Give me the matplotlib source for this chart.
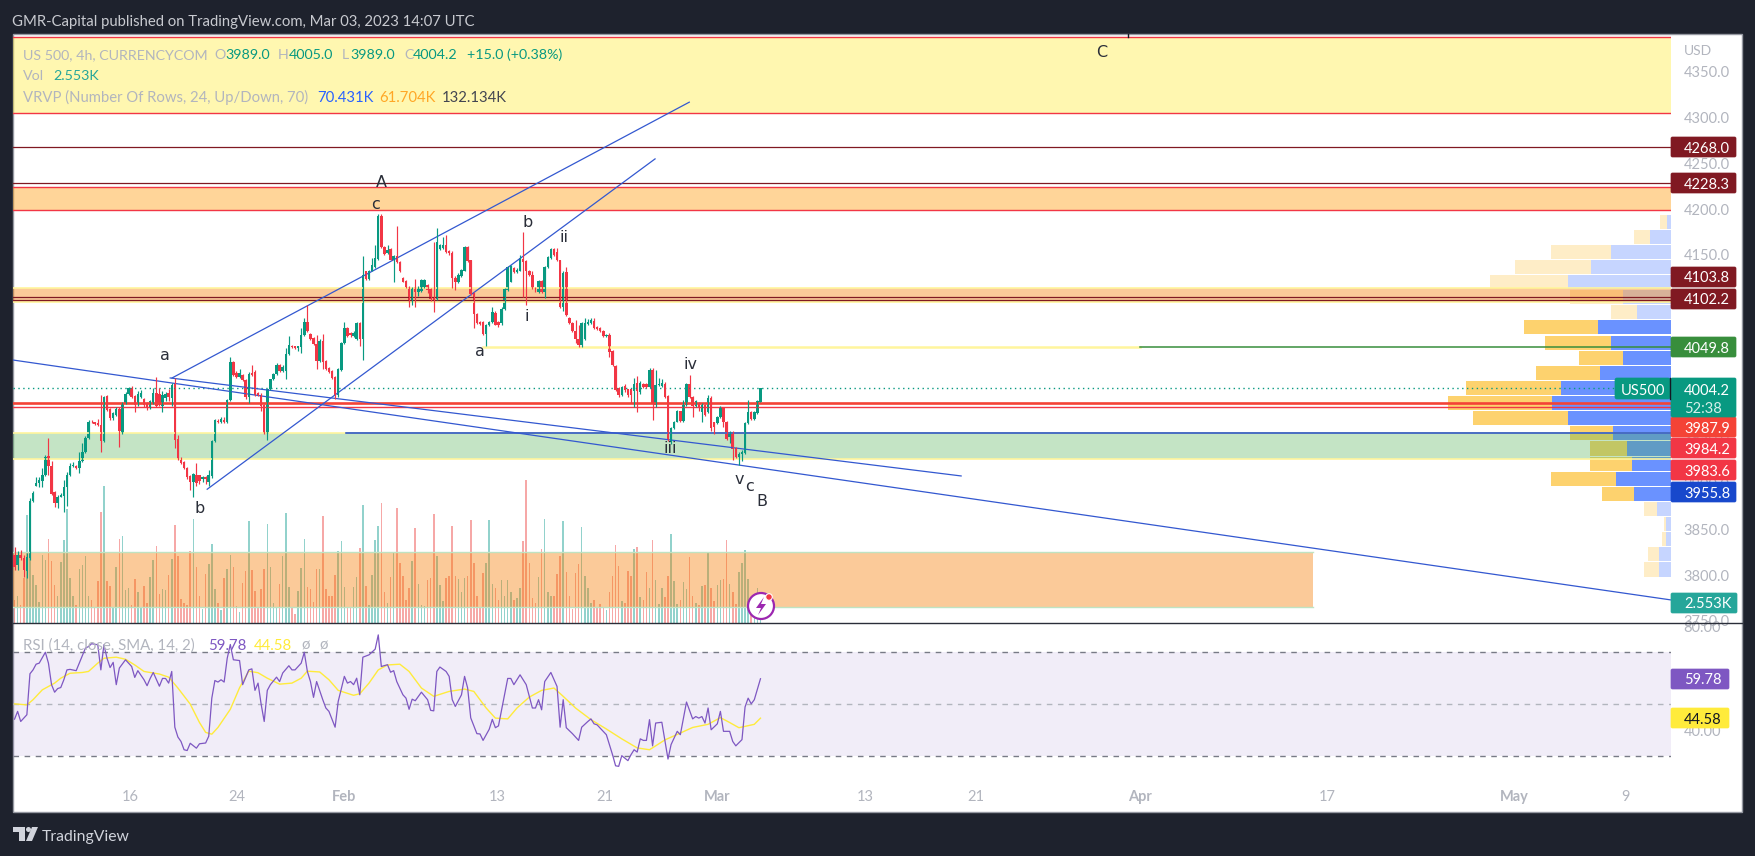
"""
plot.py
US 500 4h chart with volume, visible range profile and RSI, TradingView look.
"""

import matplotlib
matplotlib.use("Agg")
import matplotlib.pyplot as plt
import numpy as np
from matplotlib.patches import Circle, FancyBboxPatch, Polygon, Rectangle

W, H = 1756, 856
BG = "#1e222d"
GREEN = "#089981"
RED = "#f23645"
GREY = "#b2b5be"
DARK_RED = "#801922"
LINE_BLUE = "#3358d0"
INK = "#2a2e39"

plt.rcParams["font.family"] = "Lato"

# candles, 4h bars
opens = [
    3822, 3811, 3822, 3819, 3805, 3819, 3881, 3898, 3901, 3903,
    3909, 3930, 3919, 3891, 3879, 3886, 3887, 3896, 3909, 3919,
    3919, 3917, 3925, 3935, 3950, 3968, 3967, 3966, 3964, 3947,
    3996, 3982, 3972, 3975, 3982, 3955, 3988, 3998, 4005, 3996,
    3987, 3995, 3993, 3988, 3983, 3988, 3999, 3998, 3985, 3994,
    3999, 3994, 4010, 3949, 3926, 3924, 3917, 3908, 3902, 3910,
    3909, 3905, 3907, 3902, 3908, 3947, 3969, 3967, 3970, 3967,
    3991, 4033, 4021, 4017, 4019, 4013, 3995, 4021, 4022, 3999,
    3997, 3986, 3954, 4003, 4014, 4020, 4030, 4023, 4023, 4042,
    4051, 4050, 4048, 4049, 4062, 4077, 4064, 4059, 4053, 4034,
    4056, 4034, 4027, 4023, 4017, 3997, 4024, 4054, 4070, 4065,
    4061, 4058, 4076, 4058, 4132, 4124, 4133, 4137, 4146, 4193,
    4159, 4152, 4156, 4145, 4149, 4142, 4125, 4122, 4115, 4099,
    4115, 4110, 4111, 4115, 4117, 4113, 4103, 4102, 4156, 4158,
    4161, 4154, 4152, 4125, 4120, 4127, 4133, 4159, 4144, 4108,
    4086, 4077, 4077, 4064, 4073, 4077, 4087, 4077, 4076, 4091,
    4112, 4121, 4136, 4131, 4133, 4146, 4143, 4133, 4128, 4114,
    4109, 4122, 4110, 4137, 4147, 4157, 4153, 4144, 4093, 4131,
    4081, 4076, 4067, 4058, 4052, 4058, 4075, 4076, 4078, 4071,
    4070, 4067, 4061, 4063, 4045, 4029, 4005, 3997, 4007, 4003,
    4003, 4001, 4010, 4000, 4009, 4009, 4006, 4024, 3986, 4008,
    4007, 4009, 3996, 3946, 3961, 3968, 3979, 3969, 3986, 4009,
    3995, 3985, 3988, 3978, 3986, 3978, 3994, 3967, 3966, 3973,
    3983, 3968, 3951, 3957, 3939, 3929, 3932, 3934, 3966, 3978,
    3971, 3977, 3989,
]
highs = [
    3831, 3826, 3828, 3822, 3824, 3884, 3892, 3907, 3907, 3917,
    3931, 3950, 3925, 3892, 3888, 3890, 3904, 3913, 3923, 3924,
    3921, 3935, 3945, 3952, 3970, 3970, 3968, 3971, 3997, 3996,
    3997, 3983, 3978, 3984, 3984, 3989, 4000, 4006, 4007, 3997,
    4001, 4002, 3994, 3989, 3992, 4005, 4017, 4005, 4001, 4000,
    4003, 4010, 4016, 3953, 3929, 3925, 3918, 3909, 3912, 3923,
    3910, 3908, 3908, 3915, 3948, 3971, 3971, 3973, 3973, 3993,
    4039, 4034, 4023, 4025, 4020, 4014, 4022, 4030, 4024, 4000,
    3999, 3987, 4004, 4015, 4021, 4032, 4031, 4030, 4048, 4061,
    4052, 4051, 4051, 4070, 4081, 4095, 4065, 4060, 4063, 4058,
    4064, 4035, 4028, 4024, 4018, 4026, 4055, 4077, 4071, 4066,
    4067, 4077, 4077, 4149, 4133, 4134, 4147, 4161, 4195, 4195,
    4160, 4161, 4158, 4150, 4182, 4143, 4126, 4123, 4116, 4115,
    4124, 4116, 4124, 4124, 4118, 4114, 4164, 4179, 4162, 4170,
    4172, 4155, 4154, 4127, 4130, 4135, 4160, 4160, 4145, 4109,
    4087, 4078, 4078, 4075, 4078, 4093, 4089, 4078, 4093, 4114,
    4138, 4139, 4137, 4136, 4150, 4175, 4144, 4134, 4132, 4115,
    4123, 4123, 4138, 4149, 4158, 4158, 4158, 4145, 4132, 4137,
    4082, 4077, 4079, 4074, 4077, 4081, 4080, 4081, 4081, 4072,
    4071, 4068, 4064, 4065, 4046, 4030, 4006, 4007, 4009, 4004,
    4004, 4016, 4018, 4012, 4010, 4010, 4027, 4027, 4024, 4016,
    4014, 4011, 3997, 3962, 3969, 3981, 3980, 3992, 4010, 4019,
    3996, 3992, 3989, 3988, 3987, 3997, 3996, 3968, 3974, 3985,
    3984, 3969, 3958, 3958, 3940, 3935, 3937, 3967, 3992, 3979,
    3979, 3991, 4005,
]
lows = [
    3806, 3806, 3817, 3798, 3797, 3817, 3880, 3897, 3896, 3896,
    3908, 3910, 3888, 3875, 3874, 3885, 3869, 3876, 3908, 3918,
    3916, 3912, 3924, 3934, 3949, 3966, 3964, 3963, 3935, 3946,
    3980, 3970, 3970, 3974, 3940, 3954, 3987, 3997, 3994, 3978,
    3985, 3994, 3984, 3981, 3982, 3987, 3984, 3985, 3978, 3990,
    3990, 3985, 3939, 3926, 3922, 3916, 3905, 3893, 3886, 3897,
    3900, 3902, 3900, 3898, 3906, 3946, 3966, 3966, 3966, 3966,
    3990, 4018, 4016, 4016, 4012, 3993, 3988, 4018, 3996, 3996,
    3979, 3954, 3948, 4002, 4013, 4019, 4022, 4022, 4014, 4041,
    4048, 4047, 4045, 4043, 4061, 4066, 4057, 4052, 4025, 4033,
    4025, 4024, 4021, 4015, 3993, 3995, 4023, 4053, 4060, 4060,
    4060, 4057, 4050, 4035, 4123, 4123, 4132, 4136, 4145, 4158,
    4150, 4151, 4144, 4120, 4141, 4131, 4120, 4114, 4093, 4095,
    4093, 4105, 4110, 4114, 4108, 4100, 4088, 4101, 4155, 4157,
    4152, 4150, 4114, 4112, 4119, 4126, 4132, 4142, 4106, 4070,
    4075, 4074, 4063, 4050, 4072, 4076, 4073, 4071, 4073, 4090,
    4111, 4120, 4130, 4130, 4132, 4104, 4095, 4127, 4113, 4110,
    4108, 4108, 4103, 4136, 4146, 4149, 4143, 4092, 4089, 4083,
    4075, 4066, 4054, 4049, 4049, 4057, 4074, 4075, 4069, 4068,
    4066, 4060, 4060, 4039, 4029, 4001, 3995, 3996, 4000, 3995,
    3988, 3984, 3978, 3998, 4005, 4005, 4005, 3970, 3984, 4007,
    4006, 3994, 3947, 3943, 3960, 3967, 3968, 3968, 3985, 3994,
    3973, 3984, 3980, 3967, 3974, 3977, 3958, 3954, 3965, 3972,
    3962, 3948, 3944, 3926, 3928, 3921, 3925, 3933, 3965, 3970,
    3970, 3976, 3989,
]
closes = [
    3809, 3822, 3819, 3806, 3820, 3881, 3890, 3901, 3904, 3909,
    3929, 3919, 3889, 3879, 3886, 3888, 3896, 3909, 3919, 3920,
    3917, 3925, 3935, 3950, 3968, 3967, 3965, 3964, 3947, 3995,
    3981, 3972, 3977, 3982, 3958, 3988, 3998, 4005, 3995, 3986,
    3998, 3999, 3986, 3983, 3990, 3999, 3985, 3986, 3997, 3998,
    3995, 4008, 3948, 3927, 3923, 3917, 3907, 3902, 3911, 3901,
    3903, 3907, 3905, 3909, 3947, 3970, 3967, 3971, 3967, 3992,
    4033, 4019, 4017, 4021, 4013, 3995, 4020, 4019, 3997, 3997,
    3985, 3955, 4003, 4014, 4020, 4030, 4023, 4028, 4042, 4052,
    4049, 4048, 4050, 4062, 4077, 4067, 4058, 4053, 4034, 4056,
    4033, 4025, 4022, 4016, 3997, 4025, 4054, 4070, 4061, 4062,
    4065, 4076, 4058, 4128, 4124, 4133, 4139, 4147, 4193, 4159,
    4151, 4155, 4145, 4149, 4142, 4132, 4121, 4115, 4099, 4114,
    4110, 4114, 4123, 4123, 4112, 4102, 4101, 4164, 4161, 4161,
    4153, 4152, 4125, 4120, 4128, 4134, 4159, 4143, 4107, 4085,
    4076, 4075, 4064, 4073, 4077, 4088, 4074, 4074, 4091, 4113,
    4137, 4138, 4131, 4134, 4147, 4142, 4133, 4128, 4114, 4113,
    4122, 4109, 4137, 4148, 4157, 4150, 4144, 4093, 4130, 4084,
    4076, 4067, 4058, 4052, 4076, 4076, 4077, 4079, 4070, 4069,
    4067, 4061, 4063, 4044, 4030, 4002, 3997, 4006, 4002, 3997,
    3997, 4009, 4001, 4010, 4006, 4006, 4024, 3987, 4008, 4009,
    4010, 3995, 3948, 3961, 3968, 3979, 3969, 3986, 4009, 3995,
    3985, 3990, 3984, 3986, 3975, 3994, 3961, 3962, 3973, 3983,
    3968, 3949, 3957, 3938, 3929, 3932, 3935, 3966, 3978, 3971,
    3978, 3990, 4004.2,
]
# volume in thousands
volumes = [
    3.0, 3.4, 2.3, 5.7, 13.8, 8.9, 6.1, 4.9, 2.7, 8.7,
    8.0, 10.7, 7.9, 4.9, 3.4, 7.8, 10.6, 14.6, 5.7, 3.4,
    2.3, 6.9, 7.4, 8.6, 3.4, 2.9, 1.9, 5.4, 14.2, 17.5,
    5.4, 4.7, 2.1, 7.1, 10.7, 11.1, 4.2, 4.5, 2.3, 5.6,
    4.0, 2.1, 4.7, 2.5, 5.9, 8.0, 9.8, 3.7, 4.3, 4.2,
    6.1, 8.2, 12.5, 8.5, 3.1, 2.5, 2.3, 9.2, 13.3, 7.2,
    3.4, 1.8, 6.3, 7.5, 10.1, 4.3, 2.5, 1.7, 5.7, 6.9,
    8.7, 7.1, 2.2, 1.4, 5.1, 6.6, 13.0, 6.8, 4.1, 2.1,
    4.4, 6.9, 12.6, 7.1, 2.5, 1.9, 5.0, 8.6, 14.0, 4.6,
    2.0, 1.2, 4.1, 7.0, 10.7, 4.6, 4.4, 2.7, 6.9, 6.9,
    13.7, 4.4, 3.4, 3.4, 6.1, 9.2, 10.5, 4.6, 2.1, 1.9,
    4.6, 5.9, 9.6, 15.1, 4.7, 2.3, 6.1, 10.6, 12.4, 15.3,
    4.0, 2.5, 5.9, 9.0, 14.7, 7.6, 6.0, 3.0, 4.5, 7.9,
    12.1, 5.0, 2.3, 2.2, 5.5, 5.7, 13.9, 8.5, 4.8, 2.8,
    5.8, 6.0, 12.4, 6.0, 5.6, 4.0, 5.8, 6.0, 13.2, 7.6,
    3.5, 2.0, 6.4, 7.6, 13.2, 5.0, 4.5, 3.0, 5.5, 3.5,
    5.5, 4.0, 3.0, 3.2, 4.5, 10.5, 18.3, 7.6, 3.2, 2.5,
    5.9, 9.4, 13.3, 4.0, 3.5, 3.5, 6.2, 8.6, 13.0, 6.5,
    3.5, 1.8, 6.4, 7.5, 12.3, 6.0, 4.5, 2.5, 3.0, 2.0,
    2.4, 1.9, 1.7, 4.0, 6.0, 9.9, 7.3, 2.8, 2.6, 6.6,
    6.0, 9.5, 9.7, 3.3, 3.0, 6.5, 4.5, 10.6, 5.5, 2.4,
    4.5, 3.3, 6.0, 11.4, 5.4, 2.4, 3.0, 5.2, 4.4, 8.4,
    3.5, 2.6, 2.3, 4.7, 4.9, 8.9, 4.5, 2.8, 4.8, 5.5,
    5.6, 10.6, 5.0, 4.0, 2.4, 6.5, 7.6, 9.3, 5.6, 2.5,
    2.3, 4.5, 2.553,
]

# RSI vertices
rsi_bars = [
    0, 1, 2, 4, 5, 6, 7, 8, 10, 11, 12, 13, 14, 15, 16, 17, 18, 20, 21, 23,
    24, 25, 27, 28, 29, 30, 31, 32, 33, 34, 36, 38, 39, 40, 42, 43, 44, 45, 47, 48,
    49, 50, 51, 52, 53, 54, 55, 56, 57, 59, 60, 62, 63, 64, 65, 66, 67, 68, 69, 70,
    71, 73, 74, 76, 77, 78, 79, 80, 81, 82, 83, 85, 86, 87, 89, 90, 91, 93, 94, 95,
    96, 97, 98, 100, 101, 102, 104, 105, 107, 108, 109, 110, 111, 112, 113, 115, 117, 118, 119, 121,
    122, 123, 124, 126, 127, 128, 129, 130, 132, 134, 135, 136, 137, 138, 140, 141, 142, 143, 145, 146,
    147, 148, 150, 151, 152, 154, 155, 156, 157, 160, 161, 162, 164, 166, 168, 169, 170, 171, 172, 174,
    176, 177, 178, 179, 181, 183, 184, 186, 187, 188, 189, 191, 192, 194, 195, 196, 197, 199, 200, 201,
    202, 203, 204, 205, 206, 207, 208, 210, 211, 212, 213, 215, 216, 218, 220, 221, 222, 223, 224, 225,
    226, 228, 229, 230, 232, 233, 234, 236, 237, 238, 239, 240, 242,
]
rsi_values = [
    44.2, 47.2, 43.3, 45.9, 61.7, 63.2, 65.4, 65.8, 70.0, 65.8, 57.5, 54.6, 56.0, 56.4, 59.4, 63.2, 63.4, 62.9, 65.8, 71.6,
    72.2, 73.3, 72.9, 63.2, 72.9, 67.7, 64.1, 66.1, 57.5, 63.9, 67.1, 64.5, 60.3, 62.9, 59.4, 57.1, 59.9, 62.2, 56.9, 59.9,
    59.9, 58.1, 62.6, 41.1, 37.3, 35.6, 32.4, 32.1, 34.9, 33.0, 34.7, 35.0, 37.6, 52.3, 59.1, 58.5, 59.4, 58.5, 67.7, 73.0,
    67.1, 66.8, 57.5, 63.2, 63.6, 55.3, 58.1, 50.0, 43.3, 55.3, 57.5, 60.4, 58.7, 62.0, 64.8, 63.2, 63.2, 65.8, 70.0, 62.6,
    58.7, 52.6, 58.7, 51.7, 48.5, 47.2, 41.1, 51.0, 60.7, 58.1, 58.7, 57.5, 60.0, 53.6, 68.1, 69.0, 71.2, 76.7, 64.5, 65.2,
    62.3, 62.9, 58.7, 53.6, 52.3, 48.0, 51.9, 51.3, 54.6, 51.7, 47.6, 47.4, 62.6, 64.3, 62.6, 60.7, 51.7, 49.1, 53.6, 60.7,
    56.2, 44.7, 38.6, 38.5, 36.0, 40.3, 44.1, 40.9, 41.6, 59.9, 59.9, 57.5, 61.3, 57.5, 48.5, 48.5, 51.7, 47.8, 58.7, 62.2,
    56.8, 41.1, 51.7, 40.9, 38.6, 36.0, 41.1, 43.3, 44.3, 42.4, 42.0, 39.5, 38.2, 30.5, 26.2, 26.0, 30.1, 28.2, 30.5, 32.4,
    31.5, 36.6, 36.0, 36.0, 44.0, 33.9, 42.7, 43.0, 36.0, 28.8, 34.4, 39.5, 38.2, 50.8, 44.3, 45.2, 44.6, 45.2, 42.7, 48.5,
    40.1, 42.4, 47.2, 39.5, 39.5, 35.6, 33.9, 36.3, 48.9, 52.3, 50.1, 51.7, 59.78,
]
sma_bars = [
    0, 4, 6, 9, 13, 15, 18, 22, 24, 27, 29, 33, 36, 39, 42, 47, 50, 53, 57, 60,
    62, 64, 66, 70, 73, 76, 79, 82, 86, 90, 93, 95, 99, 102, 105, 110, 112, 115, 118, 121,
    125, 128, 132, 136, 141, 146, 149, 153, 156, 160, 163, 167, 171, 175, 178, 182, 187, 192, 197, 202,
    206, 208, 211, 215, 220, 225, 229, 232, 235, 240, 242,
]
sma_values = [
    50.1, 49.7, 51.7, 55.5, 58.1, 60.0, 61.9, 62.2, 62.6, 65.8, 67.7, 68.1, 67.3, 65.1, 62.6, 61.6, 60.4, 56.2, 50.0, 42.9,
    39.1, 38.4, 41.0, 48.0, 56.3, 62.7, 62.1, 60.0, 57.7, 58.1, 60.0, 62.7, 62.4, 59.4, 55.3, 53.4, 54.0, 58.1, 63.2, 65.1,
    65.4, 62.6, 56.2, 53.0, 54.9, 55.8, 54.9, 48.5, 44.6, 44.3, 48.5, 52.7, 55.3, 56.2, 53.0, 48.5, 44.0, 40.4, 36.6, 33.1,
    32.4, 33.9, 36.2, 38.3, 41.0, 42.2, 44.8, 42.9, 40.9, 42.2, 44.58,
]

# volume profile, top row first, in thousands
vp_up = [
    0.2, 1.2, 3.4, 4.5, 5.8, 2.7, 1.9, 4.1, 3.4, 2.7, 4.0, 6.2,
    6.7, 5.8, 3.3, 2.5, 2.2, 3.1, 2.1, 0.8, 0.3, 0.3, 0.7, 0.7,
]
vp_down = [
    0.4, 0.9, 3.4, 4.3, 4.4, 3.0, 1.5, 4.2, 3.7, 2.5, 3.6, 5.4,
    5.9, 5.4, 2.4, 2.1, 2.4, 3.7, 1.8, 0.7, 0.1, 0.2, 0.6, 0.8,
]
vp_strong_rows = [7, 8, 9, 10, 11, 12, 13, 14, 15, 16, 17, 18]

# axis ticks
price_ticks = [3750, 3800, 3850, 3900, 3950, 4000, 4050, 4100, 4150, 4200, 4250, 4300, 4350]
rsi_ticks = [40, 60, 80]
time_bars = [37.5, 72.2, 107, 156.6, 191.6, 228, 276, 312, 365, 426, 486.6, 522.6]
time_labels = ["16", "24", "Feb", "13", "21", "Mar", "13", "21", "Apr", "17", "May", "9"]
month_labels = ["Feb", "Mar", "Apr", "May"]

# price levels of the drawings
yellow_zone = [4388, 4305]
upper_orange_zone = [4224, 4199]
middle_orange_zone = [4114, 4099]
green_zone = [3955.5, 3927]
lower_orange_zone = [3825.5, 3765.5]
dark_levels = [4268.0, 4228.3, 4103.8, 4100.8]
channel_top = ([51.1, 218.9], [4015.6, 4317])
channel_bottom = ([62.5, 207.8], [3894, 4255])
wedge_long = ([-0.5, 537.4], [4035.2, 3773])
wedge_short = ([50.5, 307.1], [4015.6, 3908.5])
wave_labels = ["a", "b", "a", "b", "i", "ii", "iii", "iv", "v", "c", "c", "A", "B", "C"]
wave_bars = [48.8, 59.9, 151, 166.3, 166.3, 178.3, 212.7, 219.2, 235, 238.3, 117, 119, 242.5, 352.8]
wave_prices = [4040, 3873, 4045, 4186, 4083, 4169, 3938, 4030, 3905, 3897, 4205, 4229, 3881, 4371]


def axes_at(x0, y0, x1, y1, zorder):
    ax = fig.add_axes([x0 / W, 1 - y1 / H, (x1 - x0) / W, (y1 - y0) / H], zorder=zorder)
    ax.patch.set_alpha(0)
    return ax


def pixel_axes(zorder):
    ax = axes_at(0, 0, W, H, zorder)
    ax.set_xlim(0, W)
    ax.set_ylim(H, 0)
    ax.axis("off")
    return ax


def price_tag(text, y, color, x1=1736, text_color="white"):
    over.add_patch(FancyBboxPatch((1671, y - 10), x1 - 1671, 20, boxstyle="round,pad=0,rounding_size=1.5",
                                  fc=color, ec=color, lw=0.5))
    over.text(1684, y, text, color=text_color, fontsize=10.5, va="center_baseline", ha="left")


def segments(y, size, pieces):
    for text, color, x_pos in pieces:
        over.text(x_pos, y, text, color=color, fontsize=size, va="center_baseline", ha="left")


fig = plt.figure(figsize=(W / 100, H / 100), dpi=100, facecolor=BG)
back = pixel_axes(0)
back.add_patch(Rectangle((13, 34), 1729, 777.5, fc="white", ec="#9598a1", lw=1))

bars = np.arange(len(closes))
is_up = np.array(closes) >= np.array(opens)
xlim = (-0.5, 537.4)
price_lim = (3747.8, 4391.5)

# volume profile sits under everything
ax_vp = axes_at(13, 34, 1671, 623, 1)
vp_rows = np.linspace(4194.8, 3798, len(vp_up) + 1)
row_mid = (vp_rows[:-1] + vp_rows[1:]) / 2
row_h = (vp_rows[0] - vp_rows[1]) * 0.93
for i in range(len(vp_up)):
    a = 1.0 if i in vp_strong_rows else 0.38
    ax_vp.barh(row_mid[i], vp_up[i], height=row_h, left=0, color="#6a92ff", alpha=a, lw=0)
    ax_vp.barh(row_mid[i], vp_down[i], height=row_h, left=vp_up[i], color="#fdd26e", alpha=a, lw=0)
ax_vp.set_xlim(1658 / 17.7, 0)
ax_vp.set_ylim(*price_lim)
ax_vp.axis("off")

# volume bars
ax_vol = axes_at(13, 34, 1671, 623, 2)
vol_colors = ["#26a69a" if u else "#ef5350" for u in is_up]
ax_vol.bar(bars, volumes, width=0.5, color=vol_colors, alpha=0.5, lw=0)
ax_vol.set_xlim(*xlim)
ax_vol.set_ylim(0, 589 / 7.83)
ax_vol.axis("off")

# price pane
ax = axes_at(13, 34, 1671, 623, 3)
ax.set_xlim(*xlim)
ax.set_ylim(*price_lim)
for spine in ax.spines.values():
    spine.set_visible(False)
ax.yaxis.tick_right()
ax.set_yticks(price_ticks)
ax.set_yticklabels([f"{p:.1f}" for p in price_ticks])
ax.set_xticks([])
ax.tick_params(axis="y", length=0, pad=9, labelcolor=GREY, labelsize=10.5)

ax.axhspan(*yellow_zone, color="#ffeb3b", alpha=0.4, lw=0)
ax.axhspan(*upper_orange_zone, color="#ff9800", alpha=0.4, lw=0)
ax.axhspan(*middle_orange_zone, color="#f57c00", alpha=0.4, lw=0)
ax.axhspan(*green_zone, color="#4caf50", alpha=0.33, lw=0)
ax.fill_between([xlim[0], 421.3], lower_orange_zone[1], lower_orange_zone[0], color="#f57c00", alpha=0.4, lw=0)
ax.plot([xlim[0], 421.3], [lower_orange_zone[0]] * 2, color="#bfe3c2", lw=1)
ax.plot([xlim[0], 421.3], [lower_orange_zone[1]] * 2, color="#bfe3c2", lw=1)

for level in yellow_zone + upper_orange_zone:
    ax.axhline(level, color=RED, lw=1)
for level in middle_orange_zone + green_zone:
    ax.axhline(level, color="#fff59d", lw=1.2)
for level in dark_levels:
    ax.axhline(level, color=DARK_RED, lw=0.9)

ax.plot([152, 365], [4049.8, 4049.8], color="#fff59d", lw=1.8)
ax.plot([365, xlim[1]], [4049.8, 4049.8], color="#388e3c", lw=1.1)
ax.axhline(3987.9, color="#f44336", lw=1.9)
ax.axhline(3983.6, color=RED, lw=1)
ax.plot([107.5, xlim[1]], [3955.8, 3955.8], color="#1848cc", lw=1.1)
ax.plot([xlim[0], 519], [4004.2, 4004.2], color=GREEN, lw=1, ls=(0, (1, 2.5)))

for xs, ys in (channel_top, channel_bottom, wedge_long, wedge_short):
    ax.plot(xs, ys, color=LINE_BLUE, lw=0.9)

ax.vlines(bars, lows, highs, color=[GREEN if u else RED for u in is_up], lw=0.85)
bottoms = np.minimum(opens, closes)
heights = np.abs(np.array(closes) - np.array(opens))
ax.bar(bars, heights, bottom=bottoms, width=0.8, color=[GREEN if u else RED for u in is_up], lw=0)

for label, bar, price in zip(wave_labels, wave_bars, wave_prices):
    ax.text(bar, price, label, color="#2a2e39", fontsize=11.5, family="DejaVu Sans", ha="center", va="center")

# RSI pane
ax_rsi = axes_at(13, 624, 1671, 778, 3)
ax_rsi.set_xlim(*xlim)
ax_rsi.set_ylim(21.5, 80.9)
for spine in ax_rsi.spines.values():
    spine.set_visible(False)
ax_rsi.axhspan(30, 70, color="#7e57c2", alpha=0.1, lw=0)
ax_rsi.axhline(70, color="#787b86", lw=1, ls=(0, (4, 4)))
ax_rsi.axhline(30, color="#787b86", lw=1, ls=(0, (4, 4)))
ax_rsi.axhline(50, color="#b2b5be", lw=1, ls=(0, (4, 4)))
ax_rsi.plot(sma_bars, sma_values, color="#ffeb3b", lw=1)
ax_rsi.plot(rsi_bars, rsi_values, color="#7e57c2", lw=0.9)
ax_rsi.yaxis.tick_right()
ax_rsi.set_yticks(rsi_ticks)
ax_rsi.set_yticklabels([f"{v:.2f}" for v in rsi_ticks])
ax_rsi.set_xticks(time_bars)
ax_rsi.set_xticklabels(time_labels)
ax_rsi.tick_params(axis="y", length=0, pad=9, labelcolor=GREY, labelsize=10.5)
ax_rsi.tick_params(axis="x", length=0, pad=8.5, labelcolor=GREY, labelsize=10.5)
for tick in ax_rsi.get_xticklabels():
    if tick.get_text() in month_labels:
        tick.set_fontweight("bold")

# chrome on top, in pixel coordinates
over = pixel_axes(10)
over.plot([13, 1742], [623, 623], color=INK, lw=1)
over.text(12, 20, "GMR-Capital published on TradingView.com, Mar 03, 2023 14:07 UTC",
          color="#c8cad0", fontsize=10.7, va="center_baseline")
over.text(1684, 50, "USD", color=GREY, fontsize=10, va="center_baseline")

segments(54, 10.3, [("US 500, 4h, CURRENCYCOM", GREY, 23), ("O", GREY, 214), ("3989.0", GREEN, 225),
                    ("H", GREY, 278), ("4005.0", GREEN, 289), ("L", GREY, 342), ("3989.0", GREEN, 350.5),
                    ("C", GREY, 404), ("4004.2", GREEN, 413), ("+15.0 (+0.38%)", GREEN, 467)])
segments(75, 10.3, [("Vol", GREY, 23), ("2.553K", "#26a69a", 53)])
segments(96, 10.7, [("VRVP (Number Of Rows, 24, Up/Down, 70)", GREY, 23), ("70.431K", "#2962ff", 317),
                    ("61.704K", "#ffa726", 379), ("132.134K", "#434651", 442)])
segments(644, 10.8, [("RSI (14, close, SMA, 14, 2)", GREY, 23), ("59.78", "#7e57c2", 208), ("44.58", "#ffeb3b", 254),
                     ("ø", GREY, 301), ("ø", GREY, 319)])

price_tag("4268.0", 147, DARK_RED)
price_tag("4228.3", 183, DARK_RED)
price_tag("4103.8", 277, DARK_RED)
price_tag("4102.2", 299, DARK_RED)
price_tag("4049.8", 347, "#388e3c")
price_tag("3987.9", 427, "#f44336")
price_tag("3984.2", 448, RED)
price_tag("3983.6", 470, RED)
price_tag("3955.8", 492, "#1848cc")
price_tag("2.553K", 603, "#26a69a", x1=1737)
price_tag("59.78", 679, "#7e57c2", x1=1729)
price_tag("44.58", 718, "#ffeb3b", x1=1729, text_color="#131722")

# last price box with countdown
over.add_patch(FancyBboxPatch((1671, 378), 65, 39, boxstyle="round,pad=0,rounding_size=1.5", fc=GREEN, ec=GREEN, lw=0.5))
over.text(1684, 389, "4004.2", color="white", fontsize=10.5, va="center_baseline")
over.text(1684, 407, "52:38", color="#d6f0ea", fontsize=10.5, va="center_baseline")
over.add_patch(FancyBboxPatch((1615, 378), 55, 21, boxstyle="round,pad=0,rounding_size=2", fc=GREEN, ec=GREEN, lw=0.5))
over.text(1643, 389, "US500", color="white", fontsize=10.5, ha="center", va="center_baseline")
over.plot([1670, 1670], [378, 399], color="#131722", lw=1)

# lightning badge
over.add_patch(Circle((761, 606), 13, fc="white", ec="#9c27b0", lw=1.6))
over.add_patch(Polygon([(764, 597), (756, 608), (761, 608), (758, 615), (766, 604), (761, 604)], fc="#9c27b0", lw=0))
over.add_patch(Circle((769, 597), 3.3, fc="#f23645", ec="white", lw=0.8))

# small tick clipped at the pane top, next to the C label
over.plot([1128, 1128], [34, 37], color="#131722", lw=1)

# TradingView mark
over.add_patch(Rectangle((13, 827), 12, 4.5, fc="#d1d4dc", lw=0))
over.add_patch(Rectangle((19, 827), 6, 14, fc="#d1d4dc", lw=0))
over.add_patch(Circle((28.5, 829.5), 2.5, fc="#d1d4dc", lw=0))
over.add_patch(Polygon([(32, 827), (38, 827), (32, 841), (26, 841)], fc="#d1d4dc", lw=0))
over.text(42, 835, "TradingView", color="#d1d4dc", fontsize=11.3, va="center_baseline")

fig.savefig("out.png", dpi=100, facecolor=BG)
